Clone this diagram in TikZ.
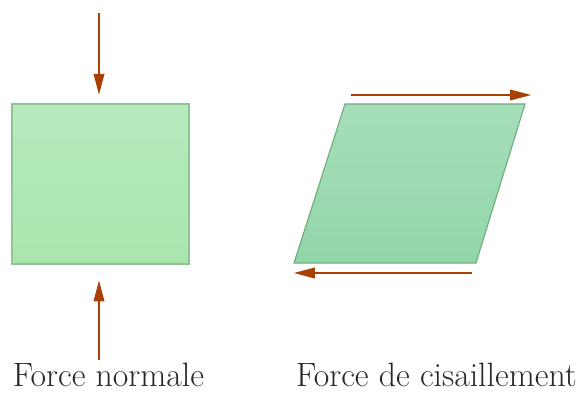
\documentclass[tikz,border=0pt]{standalone}
\usepackage{tikz}
\usetikzlibrary{arrows.meta, calc}
\definecolor{forcec}{RGB}{168, 66, 4}
\definecolor{sqtop}{RGB}{182, 234, 190}
\definecolor{sqbot}{RGB}{170, 229, 174}
\definecolor{sqline}{RGB}{140, 196, 148}
\definecolor{partop}{RGB}{166, 222, 186}
\definecolor{parbot}{RGB}{146, 214, 168}
\definecolor{parline}{RGB}{112, 172, 128}
\definecolor{labelc}{RGB}{40, 40, 40}

\begin{document}
\begin{tikzpicture}[
    x=0.025cm, y=-0.025cm,
    block/.style={rectangle, draw=sqline, line width=0.8pt, top color=sqtop, bottom color=sqbot, inner sep=0pt, minimum width=4.425cm, minimum height=4cm},
    force/.style={-{Triangle[length=0.52cm, width=0.27cm]}, line width=0.8pt, draw=forcec, fill=forcec},
    caption/.style={anchor=base, inner sep=0pt, text=labelc, font=\fontsize{24}{28}\selectfont}
]
    \useasboundingbox (0,0) rectangle (579,394);

    % compression
    \node[block] (carre) at (100.5,184) {};
    \coordinate (haut) at (99,13);
    \coordinate (bas) at (99,360);
    \draw[force, shorten >=0.22cm] (haut) -- (haut |- carre.north);
    \draw[force, shorten >=0.4cm] (bas) -- (bas |- carre.south);

    % cisaillement
    \coordinate (p1) at (345,104);
    \coordinate (p2) at (525,104);
    \coordinate (p3) at (476,263);
    \coordinate (p4) at (294,263);
    \draw[draw=parline, line width=0.8pt, top color=partop, bottom color=parbot] (p1) -- (p2) -- (p3) -- (p4) -- cycle;
    \coordinate (s1) at (351,95);
    \coordinate (s2) at (531,95);
    \coordinate (s3) at (472,273);
    \coordinate (s4) at (294,273);
    \draw[force] (s1) -- (s2);
    \draw[force] (s3) -- (s4);

    \node[caption] (normale) at (108.5,386) {Force normale};
    \node[caption] (cisaille) at (436.5,386) {Force de cisaillement};
\end{tikzpicture}
\end{document}
